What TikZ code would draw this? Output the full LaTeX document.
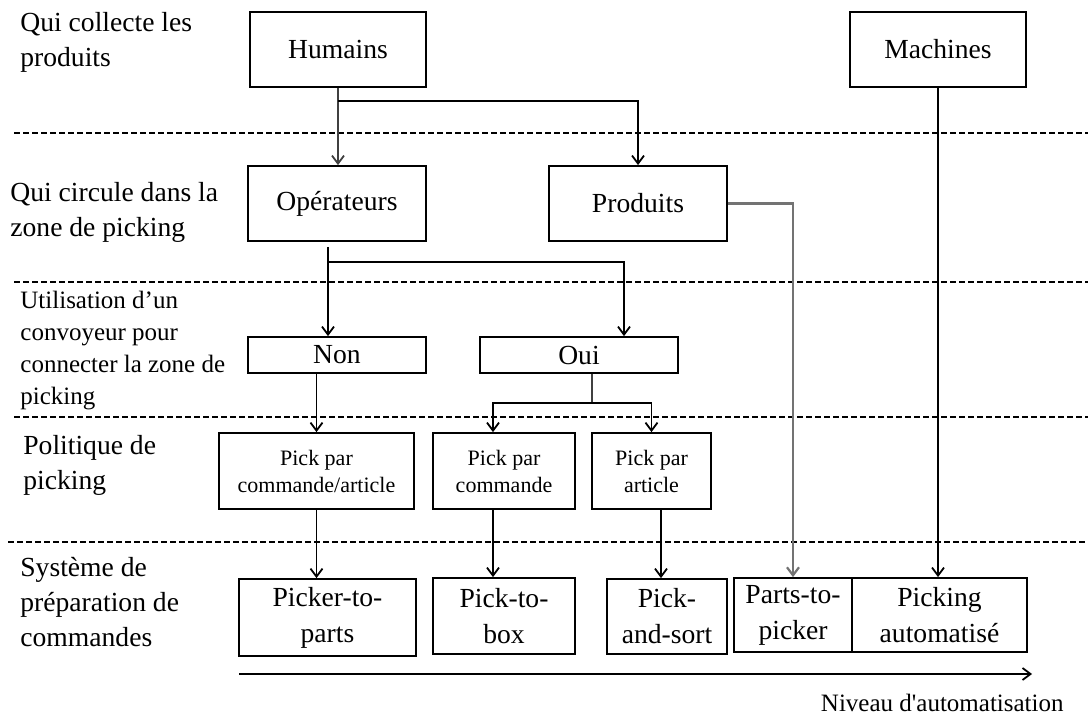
\documentclass[tikz,border=0pt]{standalone}
\usepackage{fontspec}
\setmainfont{Liberation Serif}[Ligatures=TeXOff]
\usetikzlibrary{arrows.meta}
\begin{document}
\begin{tikzpicture}[x=0.5pt,y=-0.5pt,
  box/.style={draw, line width=0.9pt, inner sep=0pt, align=center, font=\fontsize{13.8}{18}\selectfont},
  small/.style={font=\fontsize{11}{13.5}\selectfont},
  lab/.style={anchor=west, align=left, inner sep=0pt, font=\fontsize{13.8}{17.5}\selectfont},
  labs/.style={anchor=west, align=left, inner sep=0pt, font=\fontsize{12.5}{16}\selectfont},
  arr/.style={line width=0.9pt, -{Straight Barb[length=4pt,width=6pt]}},
  ln/.style={line width=0.9pt},
  grayln/.style={line width=1.1pt, black!55},
  sep/.style={line width=0.55pt, dash pattern=on 3pt off 1.5pt}]
\useasboundingbox (0,0) rectangle (1091,715);

% separators
\draw[sep] (14,133) -- (1088,133);
\draw[sep] (14,282) -- (1088,282);
\draw[sep] (14,417) -- (1088,417);
\draw[sep] (8,542) -- (1088,542);

% left labels
\node[lab] (l1) at (20,42.5) {Qui collecte les\\produits};
\node[lab] (l2) at (10,212.5) {Qui circule dans la\\zone de picking};
\node[labs] (l3) at (20,351) {Utilisation d’un\\convoyeur pour\\connecter la zone de\\picking};
\node[lab] (l4) at (23,465.5) {Politique de\\picking};
\node[lab] (l5) at (20,602.5) {Système de\\préparation de\\commandes};

% boxes
\node[box, minimum width=88pt, minimum height=37.5pt] (hum) at (338,49.5) {Humains};
\node[box, minimum width=88pt, minimum height=37.5pt] (mach) at (938,49.5) {Machines};
\node[box, minimum width=89pt, minimum height=37.5pt] (op) at (337,203.5) {Opérateurs\vphantom{p}};
\node[box, minimum width=89pt, minimum height=37.5pt] (prod) at (638,203.5) {Produits};
\node[box, minimum width=89pt, minimum height=18pt] (non) at (337,355) {Non};
\node[box, minimum width=99pt, minimum height=18pt] (oui) at (579,355) {Oui};
\node[box, small, minimum width=97.5pt, minimum height=38pt] (ppca) at (316.5,471) {Pick par\\commande/article};
\node[box, small, minimum width=71pt, minimum height=38pt] (ppc) at (504,471) {Pick par\\commande};
\node[box, small, minimum width=59.5pt, minimum height=38pt] (ppa) at (651.5,471) {Pick par\\article};
\node[box, minimum width=88.5pt, minimum height=38.5pt] (ptp) at (327.5,617.5) {Picker-to-\\parts};
\node[box, minimum width=71pt, minimum height=38pt] (ptb) at (504,616) {Pick-to-\\box};
\node[box, minimum width=60pt, minimum height=37.5pt] (pas) at (667,616.5) {Pick-\\and-sort};
\node[box, minimum width=59pt, minimum height=37pt] (ptk) at (793,615) {Parts-to-\\picker};
\node[box, minimum width=87.5pt, minimum height=37pt] (pa) at (939.5,615) {Picking\\automatisé};

% connectors
\coordinate (j1) at (338,101);
\draw[arr, black!75] (hum.south) -- (hum.south |- op.north);
\draw[arr] (j1) -| (prod.north);
\draw[arr, grayln] (prod.east) -| (ptk.north);
\draw[arr] (mach.south) -- (mach.south |- pa.north);

\coordinate (j2) at (328,247);
\coordinate (j3) at (328,262);
\draw[arr] (j2) -- (j2 |- non.north);
\draw[arr] (j3) -| ([xshift=22.5pt]oui.north);

\draw[arr] (ppca.north |- non.south) -- (ppca.north);

\coordinate (j4) at (592,403);
\draw[ln, black!75] ([xshift=6.5pt]oui.south) -- (j4);
\draw[arr] (j4) -| ([xshift=-5.5pt]ppc.north);
\draw[arr] (j4) -| (ppa.north);

\draw[arr] (ppca.south) -- (ppca.south |- ptp.north);
\draw[arr] ([xshift=-5.5pt]ppc.south) -- ([xshift=-5.5pt]ptb.north);
\draw[arr] ([xshift=4.75pt]ppa.south) -- ([xshift=4.75pt]ppa.south |- pas.north);

% automation axis
\coordinate (a0) at (239,674);
\coordinate (a1) at (1032,674);
\draw[arr] (a0) -- (a1);
\node[anchor=east, inner sep=0pt, font=\fontsize{12.5}{15}\selectfont] (niv) at (1064,703) {Niveau d'automatisation};
\end{tikzpicture}
\end{document}
